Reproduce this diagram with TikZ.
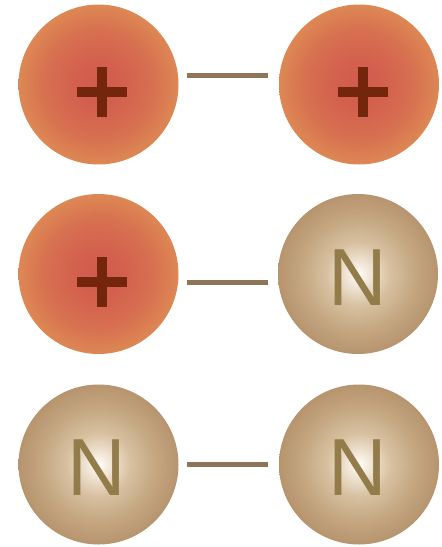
\documentclass[tikz,border=0pt]{standalone}
\usepackage{fontspec}
\setmainfont{Liberation Sans}
\usetikzlibrary{calc}
\definecolor{bondbrown}{RGB}{142,117,90}
\definecolor{plusbrown}{RGB}{115,38,12}
\definecolor{nletter}{RGB}{145,124,74}
\definecolor{ioncore}{RGB}{209,90,78}
\definecolor{ioninner}{RGB}{211,97,78}
\definecolor{ionmid}{RGB}{215,112,80}
\definecolor{ionrim}{RGB}{221,136,84}
\definecolor{neucore}{RGB}{255,253,248}
\definecolor{neuinner}{RGB}{240,228,212}
\definecolor{neumid}{RGB}{215,192,160}
\definecolor{neuouter}{RGB}{196,166,128}
\definecolor{neurim}{RGB}{182,148,110}
\pgfdeclareradialshading{ionshade}{\pgfpoint{0bp}{0bp}}{%
  color(0bp)=(ioncore); color(8bp)=(ioninner); color(17bp)=(ionmid);
  color(25bp)=(ionrim); color(50bp)=(ionrim)}
\pgfdeclareradialshading{neushade}{\pgfpoint{0bp}{0bp}}{%
  color(0bp)=(neucore); color(4bp)=(neuinner); color(10bp)=(neumid);
  color(18bp)=(neuouter); color(25bp)=(neurim); color(50bp)=(neurim)}
\tikzset{
  ion/.style={circle, minimum size=160pt, inner sep=0pt, shading=ionshade},
  neutral/.style={circle, minimum size=160pt, inner sep=0pt, shading=neushade},
  nlabel/.style={inner sep=0pt, text=nletter, font=\fontsize{81}{81}\selectfont},
  bond/.style={bondbrown, line width=5pt},
  plussign/.pic={
    \fill[plusbrown] (-25,-5) rectangle (25,5);
    \fill[plusbrown] (-5,-25) rectangle (5,25);
  },
}

\begin{document}
\begin{tikzpicture}[x=1pt,y=-1pt]
    \useasboundingbox (0,0) rectangle (442,547);
    % row 1: two charged
    \node[ion] (a1) at (98.5,84.5) {};
    \node[ion] (a2) at (359,84.5) {};
    \pic at (102,92) {plussign};
    \pic at (363,92) {plussign};
    \draw[bond, shorten <=8.5pt, shorten >=11pt] ([yshift=9.5pt]a1.east) -- ([yshift=9.5pt]a2.west);
    % row 2: charged and neutral
    \node[ion] (b1) at (98.5,274) {};
    \node[neutral] (b2) at (358,274) {};
    \pic at (102,282) {plussign};
    \node[nlabel] (nb2) at (358,278) {N};
    \draw[bond, shorten <=8.5pt, shorten >=10pt] ([yshift=-8pt]b1.east) -- ([yshift=-8pt]b2.west);
    % row 3: two neutral
    \node[neutral] (c1) at (98.5,464.5) {};
    \node[neutral] (c2) at (359,464.5) {};
    \node[nlabel] (nc1) at (97,468) {N};
    \node[nlabel] (nc2) at (357.5,468) {N};
    \draw[bond, shorten <=8.5pt, shorten >=11pt] (c1.east) -- (c2.west);
\end{tikzpicture}
\end{document}
